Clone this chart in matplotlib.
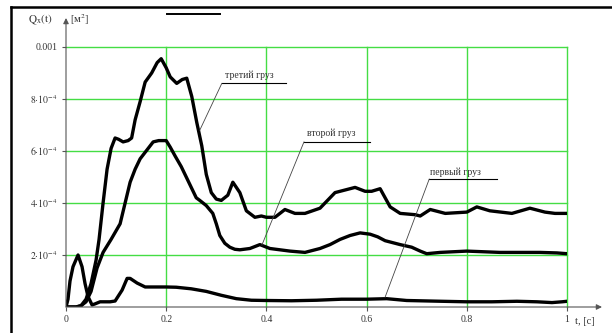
import matplotlib
matplotlib.use('Agg')
import matplotlib.pyplot as plt
from matplotlib.lines import Line2D

plt.rcParams['font.family'] = ['Liberation Serif', 'DejaVu Serif']
plt.rcParams['mathtext.fontset'] = 'stix'

# displacement of each load, units of 1e-4 m^2
t1 = [0, 0.004, 0.008, 0.014, 0.024, 0.032, 0.038, 0.044, 0.052, 0.058, 0.068, 0.088,
      0.098, 0.112, 0.122, 0.128, 0.142, 0.158, 0.178, 0.2, 0.22, 0.25, 0.28, 0.31,
      0.34, 0.37, 0.4, 0.45, 0.5, 0.55, 0.6, 0.64, 0.68, 0.75, 0.8, 0.85, 0.9, 0.94,
      0.97, 0.99, 1.0]
q1 = [0, 0.3, 1.0, 1.55, 2.0, 1.55, 0.9, 0.4, 0.08, 0.12, 0.2, 0.2,
      0.23, 0.65, 1.1, 1.1, 0.92, 0.77, 0.77, 0.77, 0.76, 0.7, 0.6, 0.45,
      0.32, 0.26, 0.25, 0.24, 0.26, 0.3, 0.3, 0.32, 0.25, 0.22, 0.2, 0.2, 0.22, 0.2,
      0.17, 0.2, 0.22]

t2 = [0, 0.02, 0.03, 0.04, 0.05, 0.062, 0.074, 0.09, 0.108, 0.118, 0.128, 0.138,
      0.148, 0.16, 0.174, 0.185, 0.194, 0.2, 0.208, 0.218, 0.23, 0.24, 0.25, 0.26,
      0.267, 0.28, 0.293, 0.3, 0.307, 0.317, 0.327, 0.337, 0.347, 0.367, 0.387, 0.407,
      0.427, 0.447, 0.477, 0.507, 0.527, 0.547, 0.567, 0.587, 0.607, 0.622, 0.637,
      0.667, 0.69, 0.707, 0.72, 0.747, 0.8, 0.866, 0.946, 0.98, 1.0]
q2 = [0, 0.0, 0.05, 0.2, 0.6, 1.5, 2.1, 2.6, 3.2, 4.0, 4.8, 5.3,
      5.7, 6.0, 6.35, 6.4, 6.4, 6.4, 6.15, 5.8, 5.4, 5.0, 4.6, 4.2,
      4.1, 3.9, 3.6, 3.2, 2.75, 2.45, 2.3, 2.22, 2.2, 2.25, 2.4, 2.25,
      2.2, 2.15, 2.1, 2.25, 2.4, 2.6, 2.75, 2.85, 2.8, 2.7, 2.55,
      2.4, 2.3, 2.15, 2.05, 2.1, 2.15, 2.1, 2.1, 2.08, 2.05]

t3 = [0, 0.02, 0.03, 0.04, 0.05, 0.06, 0.066, 0.074, 0.082, 0.09, 0.098, 0.105,
      0.114, 0.124, 0.131, 0.138, 0.148, 0.158, 0.171, 0.182, 0.19, 0.2, 0.208,
      0.221, 0.232, 0.241, 0.251, 0.261, 0.271, 0.28, 0.29, 0.3, 0.31, 0.323, 0.333,
      0.34, 0.347, 0.36, 0.377, 0.39, 0.4, 0.417, 0.437, 0.457, 0.477, 0.507, 0.537,
      0.557, 0.577, 0.597, 0.61, 0.627, 0.647, 0.667, 0.697, 0.707, 0.727, 0.757,
      0.8, 0.82, 0.846, 0.89, 0.926, 0.956, 0.976, 1.0]
q3 = [0, 0, 0.05, 0.3, 0.9, 1.8, 2.6, 4.0, 5.3, 6.1, 6.5, 6.45,
      6.35, 6.4, 6.5, 7.2, 7.9, 8.65, 9.0, 9.4, 9.55, 9.2, 8.85,
      8.6, 8.75, 8.8, 8.1, 7.1, 6.2, 5.1, 4.4, 4.15, 4.1, 4.3, 4.8,
      4.6, 4.4, 3.7, 3.45, 3.5, 3.45, 3.45, 3.75, 3.6, 3.6, 3.8, 4.4,
      4.5, 4.6, 4.45, 4.45, 4.55, 3.85, 3.6, 3.55, 3.5, 3.75, 3.6,
      3.65, 3.85, 3.7, 3.6, 3.8, 3.65, 3.6, 3.6]

xticks = [0, 0.2, 0.4, 0.6, 0.8, 1]
xlabels = ['0', '0.2', '0.4', '0.6', '0.8', '1']
yticks = [2e-4, 4e-4, 6e-4, 8e-4, 1e-3]
ylabels = [r'$2{\cdot}10^{-4}$', r'$4{\cdot}10^{-4}$', r'$6{\cdot}10^{-4}$',
           r'$8{\cdot}10^{-4}$', '0.001']

W, H = 612, 333
fig = plt.figure(figsize=(W / 100, H / 100), dpi=100)
ax = fig.add_axes([66 / W, 1 - 307 / H, 501 / W, 260 / H])
ax.set_xlim(0, 1)
ax.set_ylim(0, 1e-3)

for x in xticks[1:]:
    ax.axvline(x, color='#44dd44', lw=1, clip_on=False, zorder=1)
for y in yticks:
    ax.axhline(y, color='#44dd44', lw=1, clip_on=False, zorder=1)

for t, q in [(t1, q1), (t2, q2), (t3, q3)]:
    ax.plot(t, [v * 1e-4 for v in q], color='black', lw=2.4,
            solid_joinstyle='round', zorder=3)

for s in ax.spines.values():
    s.set_visible(False)
ax.set_xticks(xticks)
ax.set_xticklabels(xlabels)
ax.set_yticks(yticks)
ax.set_yticklabels(ylabels)
ax.tick_params(axis='both', length=3, width=0.8, color='#555555',
               labelsize=7, labelcolor='#333333', pad=3)

# axes with arrows
arr = dict(arrowstyle='-|>', lw=0.8, color='#555555', mutation_scale=8,
           shrinkA=0, shrinkB=0)
ax.annotate('', xy=(0, 289 / 260), xytext=(0, 0), xycoords='axes fraction',
            arrowprops=arr, annotation_clip=False)
ax.annotate('', xy=(536 / 501, 0), xytext=(0, 0), xycoords='axes fraction',
            arrowprops=arr, annotation_clip=False)

# curve labels with leader lines
notes = [('третий груз', 0.317, 8.92e-4, 0.311, 0.439, 8.6e-4, 0.267, 6.8e-4),
         ('второй груз', 0.481, 6.7e-4, 0.475, 0.607, 6.35e-4, 0.391, 2.38e-4),
         ('первый груз', 0.727, 5.2e-4, 0.725, 0.860, 4.92e-4, 0.637, 0.38e-4)]
for txt, tx, ty, u0, u1, uy, px, py in notes:
    ax.text(tx, ty, txt, fontsize=7, color='#333333', va='center', zorder=4)
    ax.plot([u0, u1], [uy, uy], color='black', lw=0.8, zorder=4)
    ax.plot([u0, px], [uy, py], color='#444444', lw=0.6, zorder=4)

fig.text(28 / W, 1 - 20 / H, r'$\mathrm{Q_x(t)}$', fontsize=8, color='#333333',
         va='center')
fig.text(70 / W, 1 - 20 / H, r'[м$^{2}$]', fontsize=7.5, color='#333333',
         va='center')
fig.text(575 / W, 1 - 321 / H, 't, [c]', fontsize=7.5, color='#333333',
         va='center')

# page frame
fig.add_artist(Line2D([11 / W, 11 / W], [0, 1 - 7 / H], color='black', lw=1.8))
fig.add_artist(Line2D([11 / W, 1], [1 - 7 / H, 1 - 7 / H], color='black', lw=1.8))
fig.add_artist(Line2D([167 / W, 220 / W], [1 - 14 / H, 1 - 14 / H], color='black', lw=1.4))

fig.savefig('out.png', dpi=100)
